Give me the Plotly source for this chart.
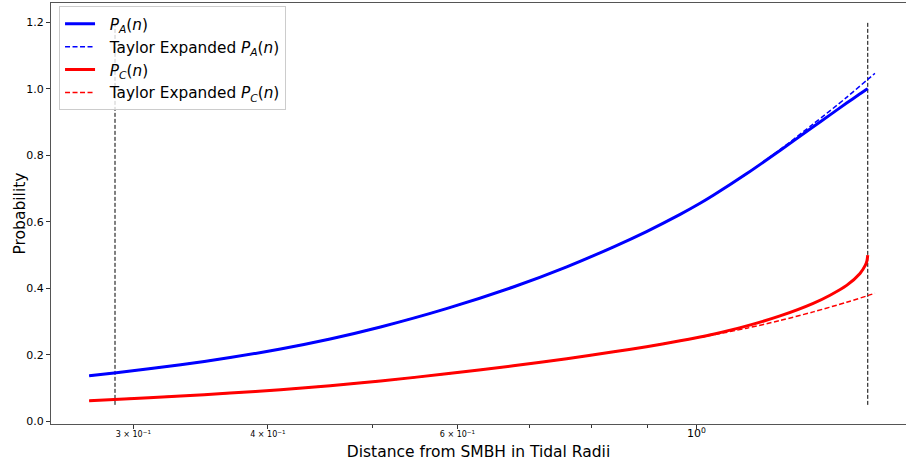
import plotly.graph_objects as go

# ---- data ----
dist = [0.273, 0.288, 0.332, 0.369, 0.411, 0.457, 0.509, 0.586, 0.676, 0.758,
        0.838, 0.899, 0.966, 1.008, 1.037, 1.114, 1.196, 1.284, 1.331, 1.379,
        1.419, 1.435, 1.440, 1.4427]
p_a = [0.1375, 0.1459, 0.1706, 0.1922, 0.2179, 0.2479, 0.2840, 0.3391, 0.4042, 0.4648,
       0.5250, 0.5708, 0.6223, 0.6556, 0.6796, 0.7449, 0.8144, 0.8855, 0.9214, 0.9568,
       0.9845, 0.9955, 0.9985, 1.0000]
p_c = [0.0625, 0.0662, 0.0767, 0.0854, 0.0957, 0.1077, 0.1218, 0.1432, 0.1674, 0.1888,
       0.2093, 0.2249, 0.2424, 0.2539, 0.2623, 0.2872, 0.3172, 0.3550, 0.3795, 0.4090,
       0.4450, 0.4690, 0.4820, 0.5000]

taylor_dist = [0.273, 0.288, 0.332, 0.369, 0.411, 0.457, 0.509, 0.586, 0.676, 0.758,
               0.838, 0.899, 0.966, 1.008, 1.037, 1.114, 1.196, 1.284, 1.379, 1.4427,
               1.465]
taylor_a = [0.1375, 0.1459, 0.1706, 0.1922, 0.2179, 0.2479, 0.2840, 0.3391, 0.4042, 0.4648,
            0.5250, 0.5708, 0.6223, 0.6556, 0.6796, 0.7449, 0.8170, 0.8940, 0.9740, 1.0280,
            1.0460]
taylor_c = [0.0625, 0.0662, 0.0767, 0.0854, 0.0957, 0.1077, 0.1218, 0.1432, 0.1674, 0.1888,
            0.2093, 0.2249, 0.2424, 0.2528, 0.2602, 0.2805, 0.3035, 0.3294, 0.3584, 0.3782,
            0.3854]

bound_x = [0.2885, 1.4427]
bound_y = [0.05, 1.2]

x_tickvals = [0.3, 0.4, 0.6, 1.0]
x_ticktext = ["3 × 10<sup>−1</sup>",
              "4 × 10<sup>−1</sup>",
              "6 × 10<sup>−1</sup>",
              "<span style='font-size:11px'>10<sup>0</sup></span>"]
x_minor = [0.5, 0.7, 0.8, 0.9]
y_tickvals = [0.0, 0.2, 0.4, 0.6, 0.8, 1.0, 1.2]

FONT = "DejaVu Sans"
PAD = "\u00a0\u00a0"

fig = go.Figure()

for bx in bound_x:
    fig.add_trace(go.Scatter(x=[bx, bx], y=bound_y, mode="lines",
                             line=dict(color="black", width=1, dash="4px,2px"),
                             showlegend=False, hoverinfo="skip"))

fig.add_trace(go.Scatter(x=dist, y=p_a, mode="lines",
                         name=PAD + "<i>P<sub>A</sub></i>(<i>n</i>)",
                         line=dict(color="#0000ff", width=3, shape="spline", smoothing=0.8)))
fig.add_trace(go.Scatter(x=taylor_dist, y=taylor_a, mode="lines",
                         name=PAD + "Taylor Expanded <i>P<sub>A</sub></i>(<i>n</i>)",
                         line=dict(color="#0000ff", width=1.5, dash="5px,2.5px",
                                   shape="spline", smoothing=0.8)))
fig.add_trace(go.Scatter(x=dist, y=p_c, mode="lines",
                         name=PAD + "<i>P<sub>C</sub></i>(<i>n</i>)",
                         line=dict(color="#ff0000", width=3, shape="spline", smoothing=0.8)))
fig.add_trace(go.Scatter(x=taylor_dist, y=taylor_c, mode="lines",
                         name=PAD + "Taylor Expanded <i>P<sub>C</sub></i>(<i>n</i>)",
                         line=dict(color="#ff0000", width=1.5, dash="5px,2.5px",
                                   shape="spline", smoothing=0.8)))

fig.update_layout(
    width=906, height=463,
    margin=dict(l=51, r=0, t=3, b=39, pad=0),
    paper_bgcolor="white", plot_bgcolor="white",
    font=dict(family=FONT, color="black"),
    legend=dict(x=0.0094, y=0.992, xanchor="left", yanchor="top",
                bgcolor="rgba(255,255,255,0.8)", bordercolor="#cccccc", borderwidth=1,
                font=dict(family=FONT, size=15.3, color="black"), tracegroupgap=0),
    xaxis=dict(type="log", range=[-0.5993, 0.1947],
               tickmode="array", tickvals=x_tickvals, ticktext=x_ticktext,
               ticks="outside", ticklen=3.5, tickwidth=1, tickcolor="#333333",
               tickfont=dict(family=FONT, size=8, color="black"),
               ticklabelstandoff=-1,
               minor=dict(tickmode="array", tickvals=x_minor, ticks="outside",
                          ticklen=3, tickwidth=1, tickcolor="#333333"),
               showline=True, linecolor="#555555", linewidth=1.2, mirror=True,
               showgrid=False, zeroline=False,
               title=dict(text="Distance from SMBH in Tidal Radii",
                          font=dict(family=FONT, size=15.5, color="black"), standoff=6)),
    yaxis=dict(range=[-0.0075, 1.2575], tickmode="array", tickvals=y_tickvals,
               tickformat=".1f", ticks="outside", ticklen=4, tickwidth=1,
               tickcolor="#333333",
               tickfont=dict(family=FONT, size=11, color="black"),
               showline=True, linecolor="#555555", linewidth=1.2,
               showgrid=False, zeroline=False),
    annotations=[dict(text="Probability", textangle=-90, xref="paper", yref="paper",
                      x=0, y=0.5, xanchor="center", yanchor="middle", xshift=-32,
                      showarrow=False, font=dict(family=FONT, size=15.5, color="black"))],
    showlegend=True,
)

fig.write_html("out.html")
